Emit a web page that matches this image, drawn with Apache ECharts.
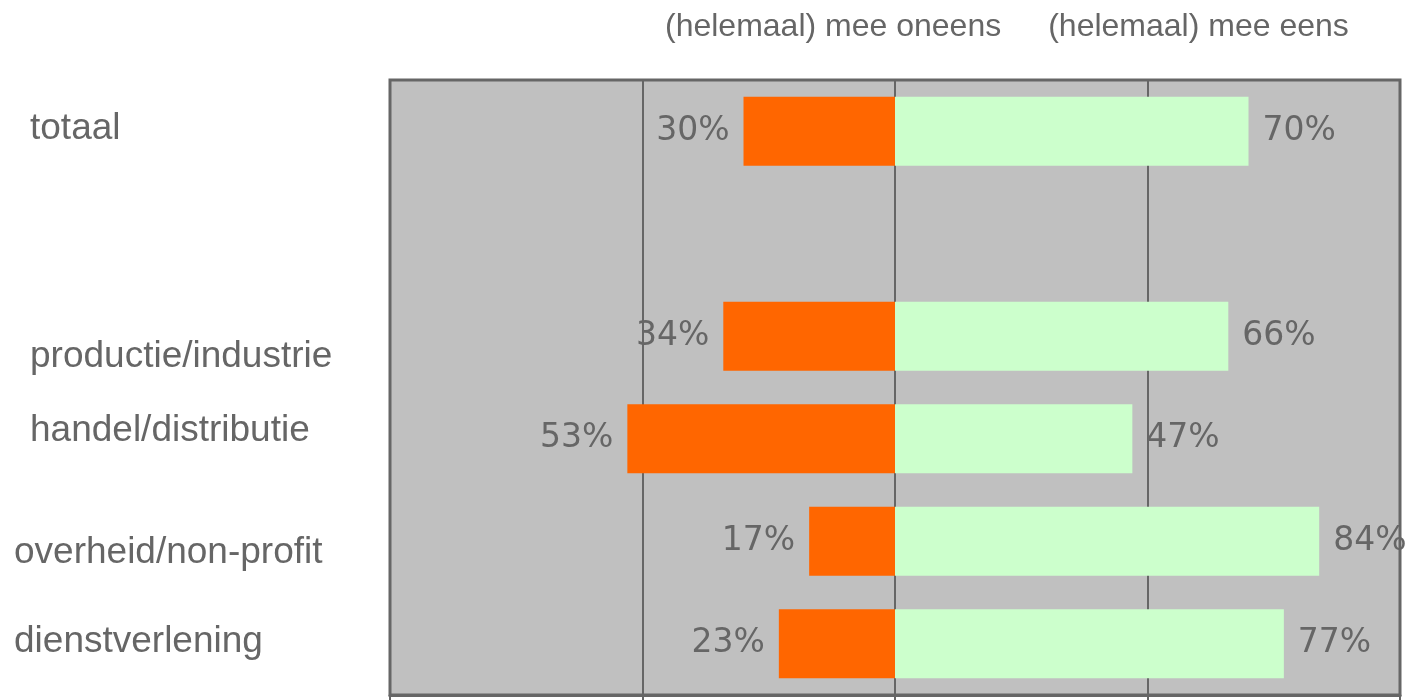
<!DOCTYPE html>
<html>
<head>
<meta charset="utf-8">
<script src="https://cdn.jsdelivr.net/npm/echarts@6/dist/echarts.min.js"></script>
<style>
  html, body { margin: 0; padding: 0; background: #fff; }
  #chart { width: 1423px; height: 700px; }
</style>
</head>
<body>
<div id="chart"></div>
<script>
// sectoren (lege rij tussen totaal en de sectoren)
var categories = ['totaal', '', 'productie/industrie', 'handel/distributie', 'overheid/non-profit', 'dienstverlening']
var seriesNames = ['(helemaal) mee oneens', '(helemaal) mee eens']
var oneens = [30, null, 34, 53, 17, 23]
var eens = [70, null, 66, 47, 84, 77]

var chart = echarts.init(document.getElementById('chart'))

// label style per categorie (verschuiving zoals in het origineel)
var labelStyles = {
  l0: { padding: [0, 0, 4, 16] },
  l1: { padding: [0, 0, 0, 16] },
  l2: { padding: [41, 0, 0, 16] },
  l3: { padding: [0, 0, 15, 16] },
  l4: { padding: [23, 0, 0, 0] },
  l5: { padding: [0, 0, 3, 0] }
}
Object.keys(labelStyles).forEach(function (k) {
  labelStyles[k].fontSize = 37
  labelStyles[k].color = '#666666'
  labelStyles[k].fontFamily = 'Liberation Sans'
})

var barLabel = {
  show: true,
  fontFamily: 'DejaVu Sans',
  fontSize: 33,
  color: '#666666',
  distance: 14,
  formatter: function (p) {
    return Math.abs(p.value) + '%'
  }
}

chart.setOption({
  animation: false,
  legend: {
    data: seriesNames,
    left: 655,
    top: 6,
    itemWidth: 0,
    itemHeight: 0,
    itemGap: 42,
    selectedMode: false,
    textStyle: { fontFamily: 'Liberation Sans', fontSize: 32, color: '#666666' }
  },
  grid: {
    left: 390,
    right: 23,
    top: 80,
    bottom: 5,
    show: true,
    backgroundColor: '#c0c0c0',
    borderColor: '#666666',
    borderWidth: 3
  },
  xAxis: {
    type: 'value',
    min: -100,
    max: 100,
    interval: 50,
    axisLabel: { show: false },
    axisLine: { show: true, lineStyle: { color: '#666666', width: 3 } },
    axisTick: { show: true, length: 6, lineStyle: { color: '#666666', width: 2 } },
    splitLine: { show: true, lineStyle: { color: '#666666', width: 2 } }
  },
  yAxis: {
    type: 'category',
    data: categories,
    inverse: true,
    axisLine: { show: false },
    axisTick: { show: false },
    axisLabel: {
      interval: 0,
      align: 'left',
      margin: 376,
      formatter: function (v, i) {
        return v ? '{l' + i + '|' + v + '}' : ''
      },
      rich: labelStyles
    }
  },
  series: [
    {
      name: seriesNames[0],
      type: 'bar',
      stack: 'totaal',
      barWidth: 69,
      itemStyle: { color: '#ff6600' },
      label: Object.assign({ position: 'left' }, barLabel),
      data: oneens.map(function (v) { return v == null ? '-' : -v })
    },
    {
      name: seriesNames[1],
      type: 'bar',
      stack: 'totaal',
      barWidth: 69,
      itemStyle: { color: '#ccffcc' },
      label: Object.assign({ position: 'right' }, barLabel),
      data: eens.map(function (v) { return v == null ? '-' : v })
    }
  ]
})
</script>
</body>
</html>
